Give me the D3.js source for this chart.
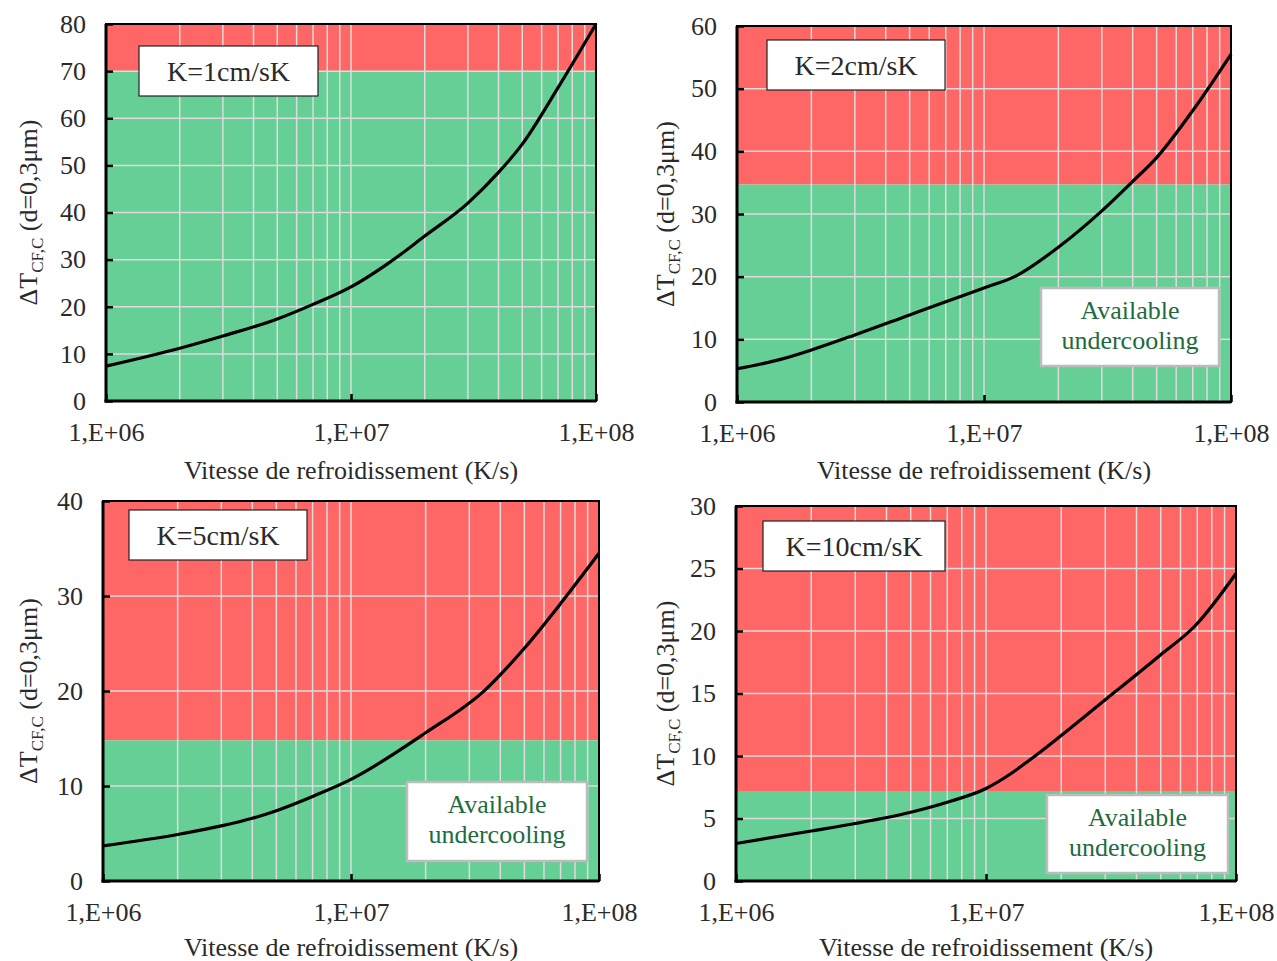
<!DOCTYPE html>
<html><head><meta charset="utf-8">
<script src="https://cdn.jsdelivr.net/npm/d3@7"></script>
<style>body{margin:0;background:#fff}svg{display:block}text{font-family:"Liberation Serif","DejaVu Serif",serif;fill:#2a2a2a}</style>
</head><body>
<svg id="c" width="1277" height="961"></svg>
<script>
// ---- data ----
const xTickValues = [1e6, 1e7, 1e8];
const xTickLabels = ["1,E+06", "1,E+07", "1,E+08"];
const xTitle = "Vitesse de refroidissement (K/s)";
const panelLabels = ["K=1cm/sK", "K=2cm/sK", "K=5cm/sK", "K=10cm/sK"];
const yMaxes = [80, 60, 40, 30];
const yStepsList = [10, 10, 10, 5];
const thresholds = [70, 34.7, 14.8, 7.2];
const showAvailable = [false, true, true, true];

const rateK1 = [1e6, 2e6, 3e6, 5e6, 7e6, 1e7, 1.4e7, 2e7, 3e7, 4e7, 5e7, 7e7, 1e8];
const dtK1   = [7.4, 11.2, 13.8, 17.4, 20.5, 24.2, 29, 35, 42, 48.5, 54.5, 66.5, 80];
const rateK2 = [1e6, 1.5e6, 2e6, 3e6, 5e6, 7e6, 1e7, 1.33e7, 2e7, 3e7, 4e7, 5e7, 7e7, 1e8];
const dtK2   = [5.3, 6.8, 8.3, 10.7, 13.9, 16.0, 18.2, 20.0, 24.7, 30.5, 35.2, 39.0, 46.5, 55.5];
const rateK5 = [1e6, 2e6, 3e6, 4e6, 5e6, 7e6, 1e7, 2e7, 3.47e7, 5e7, 7e7, 1e8];
const dtK5   = [3.7, 4.9, 5.8, 6.6, 7.4, 8.9, 10.7, 15.6, 20.1, 24.5, 29.2, 34.5];
const rateK10 = [1e6, 2e6, 3e6, 5e6, 7e6, 1e7, 1.26e7, 1.5e7, 3e7, 5e7, 6.85e7, 1e8];
const dtK10   = [3.0, 4.0, 4.6, 5.5, 6.3, 7.4, 8.6, 9.7, 14.5, 18.1, 20.4, 24.6];

const rates = [rateK1, rateK2, rateK5, rateK10];
const dts = [dtK1, dtK2, dtK5, dtK10];

// ---- layout ----
const layouts = [
  {x0:106, x1:596, y0:24, y1:401, ytx:18, lab:[139,46,179,50], av:null, xl:441, xt:479},
  {x0:737, x1:1231, y0:26, y1:402, ytx:655, lab:[767,40,178,50], av:[1041,288,178,78], xl:442, xt:479},
  {x0:103, x1:599, y0:501, y1:881, ytx:18, lab:[129,510,178,50], av:[407,782,180,79], xl:921, xt:956},
  {x0:736, x1:1236, y0:506, y1:881, ytx:655, lab:[763,521,182,50], av:[1047,795,181,78], xl:921, xt:956}
];
const RED = "#ff6666", GREEN = "#66cf96", GRID = "#dcdcdc";
const FS = 26;

const svg = d3.select("#c");

layouts.forEach((L, i) => {
  const x = d3.scaleLog().domain([1e6, 1e8]).range([L.x0, L.x1]);
  const y = d3.scaleLinear().domain([0, yMaxes[i]]).range([L.y1, L.y0]);
  const g = svg.append("g");

  // backgrounds
  g.append("rect").attr("x", L.x0).attr("y", y(yMaxes[i])).attr("width", L.x1 - L.x0)
    .attr("height", y(thresholds[i]) - y(yMaxes[i])).attr("fill", RED);
  g.append("rect").attr("x", L.x0).attr("y", y(thresholds[i])).attr("width", L.x1 - L.x0)
    .attr("height", y(0) - y(thresholds[i])).attr("fill", GREEN);

  // grid
  const minor = [];
  for (let d = 1e6; d < 1e8; d *= 10) for (let k = 1; k <= 9; k++) if (!(d === 1e6 && k === 1)) minor.push(d * k);
  g.selectAll(".vg").data(minor).enter().append("line")
    .attr("x1", d => x(d)).attr("x2", d => x(d)).attr("y1", L.y0).attr("y2", L.y1)
    .attr("stroke", GRID).attr("stroke-width", 1.5);
  const yt = d3.range(0, yMaxes[i] + 0.001, yStepsList[i]);
  g.selectAll(".hg").data(yt.slice(1, -1)).enter().append("line")
    .attr("x1", L.x0).attr("x2", L.x1).attr("y1", d => y(d)).attr("y2", d => y(d))
    .attr("stroke", GRID).attr("stroke-width", 1.5);

  // curve
  const pts = rates[i].map((r, j) => [r, dts[i][j]]);
  g.append("path").datum(pts)
    .attr("d", d3.line().x(d => x(d[0])).y(d => y(d[1])).curve(d3.curveMonotoneX))
    .attr("fill", "none").attr("stroke", "#000").attr("stroke-width", 3.2);

  // frame
  g.append("rect").attr("x", L.x0).attr("y", L.y0).attr("width", L.x1 - L.x0).attr("height", L.y1 - L.y0)
    .attr("fill", "none").attr("stroke", "#000").attr("stroke-width", 2);
  g.append("line").attr("x1", L.x0).attr("x2", L.x0).attr("y1", L.y0).attr("y2", L.y1 + 1.5).attr("stroke", "#000").attr("stroke-width", 3);
  g.append("line").attr("x1", L.x0 - 1.5).attr("x2", L.x1).attr("y1", L.y1).attr("y2", L.y1).attr("stroke", "#000").attr("stroke-width", 3);

  // y axis
  const ya = d3.axisLeft(y).tickValues(yt).tickSize(-7).tickFormat(d3.format("d"));
  const yg = g.append("g").attr("transform", `translate(${L.x0},0)`).call(ya);
  yg.select(".domain").remove();
  yg.selectAll(".tick line").attr("stroke", "#000").attr("stroke-width", 2.5);
  yg.selectAll("text").attr("font-size", FS).attr("fill", "#2a2a2a").attr("x", -20);

  // x axis
  const xa = d3.axisBottom(x).tickValues(xTickValues).tickSize(-7).tickFormat((d, k) => xTickLabels[k]);
  const xg = g.append("g").attr("transform", `translate(0,${L.y1})`).call(xa);
  xg.select(".domain").remove();
  xg.selectAll(".tick line").attr("stroke", "#000").attr("stroke-width", 2.5);
  xg.selectAll("text").attr("font-size", FS).attr("fill", "#2a2a2a").attr("dy", null).attr("y", L.xl - L.y1);

  // x title
  g.append("text").attr("x", (L.x0 + L.x1) / 2).attr("y", L.xt).attr("text-anchor", "middle")
    .attr("font-size", FS).text(xTitle);

  // y title
  const yc = (L.y0 + L.y1) / 2;
  const t = g.append("text").attr("transform", `translate(${L.ytx + 10},${yc}) rotate(-90)`)
    .attr("text-anchor", "middle").attr("dy", "0.35em").attr("font-size", FS);
  t.append("tspan").text("ΔT");
  t.append("tspan").attr("font-size", 17).attr("dy", 6).text("CF,C");
  t.append("tspan").attr("dy", -6).text(" (d=0,3μm)");

  // K label box
  const lb = L.lab;
  g.append("rect").attr("x", lb[0]).attr("y", lb[1]).attr("width", lb[2]).attr("height", lb[3])
    .attr("fill", "#fff").attr("stroke", "#222").attr("stroke-width", 1.2);
  g.append("text").attr("x", lb[0] + lb[2] / 2).attr("y", lb[1] + lb[3] / 2).attr("dy", "0.35em")
    .attr("text-anchor", "middle").attr("font-size", 28).text(panelLabels[i]);

  if (showAvailable[i]) {
    const a = L.av;
    g.append("rect").attr("x", a[0]).attr("y", a[1]).attr("width", a[2]).attr("height", a[3])
      .attr("fill", "#fff").attr("stroke", "#bcbcbc").attr("stroke-width", 2.5);
    const at = g.append("text").attr("text-anchor", "middle").attr("font-size", FS).style("fill", "#1e6b40");
    at.append("tspan").attr("x", a[0] + a[2] / 2).attr("y", a[1] + 31).text("Available");
    at.append("tspan").attr("x", a[0] + a[2] / 2).attr("y", a[1] + 61).text("undercooling");
  }
});
</script>
</body></html>
